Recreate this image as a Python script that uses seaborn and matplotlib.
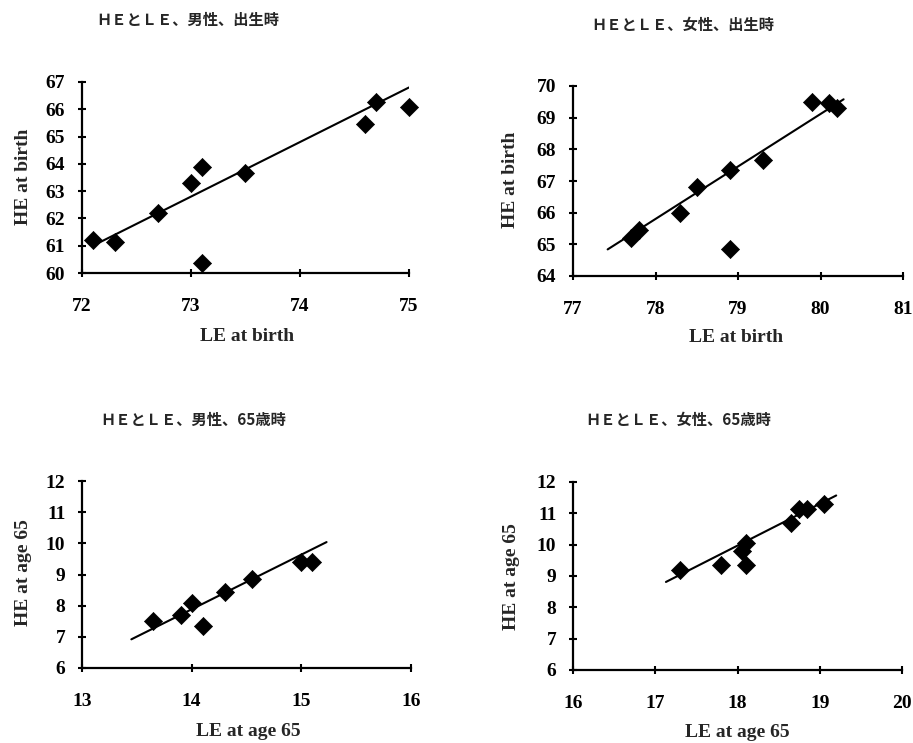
import numpy as np
import pandas as pd
import matplotlib
matplotlib.use("Agg")
import matplotlib.pyplot as plt
import seaborn as sns

# values
m_birth_le = [72.1, 72.3, 72.7, 73.0, 73.1, 73.1, 73.5, 74.6, 74.7, 75.0]
m_birth_he = [61.2, 61.15, 62.2, 63.3, 63.9, 60.35, 63.65, 65.45, 66.25, 66.1]
m_birth_trend_x = [72.1, 75.0]
m_birth_trend_y = [61.0, 66.8]

f_birth_le = [77.7, 77.8, 78.3, 78.5, 78.9, 78.9, 79.3, 79.9, 80.1, 80.2]
f_birth_he = [65.2, 65.45, 66.0, 66.8, 67.35, 64.85, 67.65, 69.5, 69.45, 69.3]
f_birth_trend_x = [77.42, 80.28]
f_birth_trend_y = [64.84, 69.58]

m_65_le = [13.65, 13.9, 14.0, 14.1, 14.3, 14.55, 15.0, 15.1]
m_65_he = [7.5, 7.7, 8.1, 7.35, 8.45, 8.85, 9.4, 9.4]
m_65_trend_x = [13.45, 15.23]
m_65_trend_y = [6.92, 10.04]

f_65_le = [17.3, 17.8, 18.05, 18.1, 18.1, 18.65, 18.75, 18.85, 19.05]
f_65_he = [9.2, 9.35, 9.8, 10.05, 9.35, 10.7, 11.15, 11.15, 11.3]
f_65_trend_x = [17.13, 19.2]
f_65_trend_y = [8.81, 11.57]

titles = ["ＨＥとＬＥ、男性、出生時", "ＨＥとＬＥ、女性、出生時",
          "ＨＥとＬＥ、男性、65歳時", "ＨＥとＬＥ、女性、65歳時"]
xlabels = ["LE at birth", "LE at birth", "LE at age 65", "LE at age 65"]
ylabels = ["HE at birth", "HE at birth", "HE at age 65", "HE at age 65"]

sns.set_style("ticks")
plt.rcParams['font.family'] = ['Liberation Serif', 'DejaVu Serif']
plt.rcParams['font.weight'] = 'bold'

W, H = 913, 743
fig = plt.figure(figsize=(W / 100, H / 100), dpi=100)

panels = [
    dict(le=m_birth_le, he=m_birth_he, tx=m_birth_trend_x, ty=m_birth_trend_y,
         box=(82, 82, 409, 273), xlim=(72, 75), ylim=(60, 67),
         title=(188, 20), xl=(0.505, -0.335), yl=(-0.18, 0.503)),
    dict(le=f_birth_le, he=f_birth_he, tx=f_birth_trend_x, ty=f_birth_trend_y,
         box=(573, 86, 903, 276), xlim=(77, 81), ylim=(64, 70),
         title=(683, 25), xl=(0.494, -0.326), yl=(-0.188, 0.505)),
    dict(le=m_65_le, he=m_65_he, tx=m_65_trend_x, ty=m_65_trend_y,
         box=(82, 481, 411, 668), xlim=(13, 16), ylim=(6, 12),
         title=(193, 420), xl=(0.505, -0.342), yl=(-0.179, 0.508)),
    dict(le=f_65_le, he=f_65_he, tx=f_65_trend_x, ty=f_65_trend_y,
         box=(573, 482, 902, 670), xlim=(16, 20), ylim=(6, 12),
         title=(678, 420), xl=(0.50, -0.335), yl=(-0.188, 0.495)),
]

for i, p in enumerate(panels):
    x0, y0, x1, y1 = p["box"]
    ax = fig.add_axes([x0 / W, 1 - y1 / H, (x1 - x0) / W, (y1 - y0) / H])
    df = pd.DataFrame({"LE": p["le"], "HE": p["he"]})
    trend = pd.DataFrame({"LE": p["tx"], "HE": p["ty"]})
    sns.lineplot(data=trend, x="LE", y="HE", ax=ax, color="black", lw=1.5)
    sns.scatterplot(data=df, x="LE", y="HE", ax=ax, marker="D", s=85,
                    color="black", edgecolor="black", linewidth=0.5, zorder=3,
                    clip_on=False)
    ax.set_xlim(*p["xlim"])
    ax.set_ylim(*p["ylim"])
    ax.set_xticks(np.arange(p["xlim"][0], p["xlim"][1] + 1, 1))
    ax.set_yticks(np.arange(p["ylim"][0], p["ylim"][1] + 1, 1))
    sns.despine(ax=ax)
    for s in ["left", "bottom"]:
        ax.spines[s].set_linewidth(1.6)
        ax.spines[s].set_color("black")
    ax.tick_params(direction="inout", length=6, width=1.5, colors="black",
                   labelsize=14)
    ax.tick_params(axis="x", pad=15)
    ax.tick_params(axis="y", pad=9)
    for lab in ax.get_xticklabels() + ax.get_yticklabels():
        lab.set_fontweight("bold")
    ax.set_xlabel(xlabels[i], fontsize=14, fontweight="bold")
    ax.set_ylabel(ylabels[i], fontsize=14, fontweight="bold")
    ax.xaxis.set_label_coords(*p["xl"])
    ax.yaxis.set_label_coords(*p["yl"])
    ax.xaxis.label.set_va("center")
    ax.yaxis.label.set_va("center")
    tx, ty = p["title"]
    fig.text(tx / W, 1 - ty / H, titles[i], ha="center", va="center",
             fontsize=11, fontweight="bold",
             family=["Noto Sans CJK JP", "DejaVu Sans"])

fig.savefig("out.png", dpi=100)
